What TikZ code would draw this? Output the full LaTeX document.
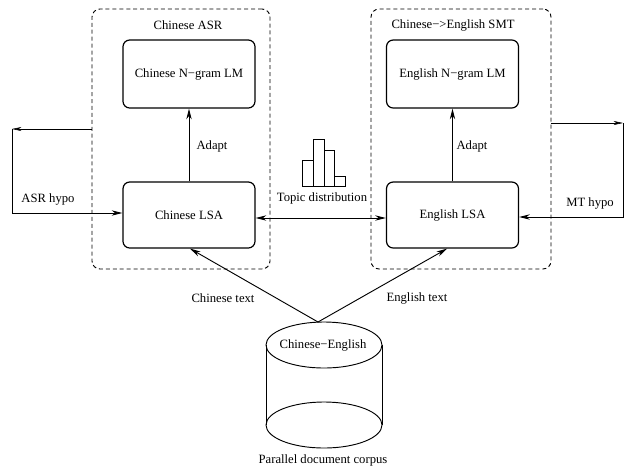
\documentclass[tikz,border=0pt]{standalone}
\usepackage{fontspec}
\setmainfont{Liberation Serif}
\usetikzlibrary{arrows.meta}
\begin{document}
\begin{tikzpicture}[x=0.75pt,y=-0.75pt, font=\fontsize{9.5}{11}\selectfont,
 box/.style={draw, rounded corners=5pt, line width=0.9pt, minimum width=99pt, minimum height=49.5pt, inner sep=0pt},
 group/.style={draw, dash pattern=on 3pt off 2.2pt, rounded corners=6pt, line width=0.7pt, inner sep=0pt},
 conn/.style={line width=0.7pt, -{Stealth[length=8pt,width=4pt,inset=2.5pt]}},
 both/.style={line width=0.7pt, {Stealth[length=8pt,width=4pt,inset=2.5pt]}-{Stealth[length=8pt,width=4pt,inset=2.5pt]}},
 thinarr/.style={line width=0.45pt, -{Stealth[length=7pt,width=3pt,inset=2pt]}},
 plain/.style={line width=0.7pt},
 hist/.style={line width=0.6pt},
 lbl/.style={inner sep=0pt}]
\useasboundingbox (0,0) rectangle (624,465);
% groups
\node[group, minimum width=133.5pt, minimum height=195pt] (asr) at (181,139) {};
\node[group, minimum width=135pt, minimum height=195pt] (smt) at (461,139) {};
\node[lbl] (asrl) at (188,25) {Chinese ASR};
\node[lbl] (smtl) at (453,25) {Chinese−>English SMT};
% boxes
\node[box, minimum height=51pt] (cng) at (189,74) {Chinese N−gram LM};
\node[box] (clsa) at (189,215) {Chinese LSA};
\node[box, minimum height=51pt] (eng) at (452.5,74) {English N−gram LM};
\node[box] (elsa) at (452.5,215) {English LSA};
% adapt
\draw[conn] (clsa) -- (cng);
\draw[conn] (elsa) -- (eng);
\node[lbl] (ad1) at (212,146) {Adapt};
\node[lbl] (ad2) at (472,146) {Adapt};
% topic distribution
\draw[both] ([yshift=-2.25pt]clsa.east) -- ([yshift=-2.25pt]elsa.west);
\node[lbl] (topic) at (322,198) {Topic distribution};
\draw[hist] (302,186) rectangle (313,160);
\draw[hist] (313,186) rectangle (324,139);
\draw[hist] (324,186) rectangle (334,150);
\draw[hist] (334,186) rectangle (345,176);
% ASR hypo
\coordinate (a2) at (12,129);
\coordinate (a3) at (12,213);
\draw[thinarr] (asr.west |- a2) -- (a2);
\draw[conn] (a2) -- (a3) -- (clsa.west |- a3);
\node[lbl] (asrh) at (48,199) {ASR hypo};
% MT hypo
\coordinate (m1) at (623,123);
\coordinate (m2) at (623,217);
\draw[thinarr] (smt.east |- m1) -- (m1);
\draw[conn] (m1) -- (m2) -- (elsa.east |- m2);
\node[lbl] (mth) at (590,203) {MT hypo};
% corpus cylinder
\draw[plain] (324,345) ellipse [x radius=43.5pt, y radius=17.25pt];
\draw[plain] (324,425) ellipse [x radius=43.5pt, y radius=17.25pt];
\draw[plain] (266,345) -- (266,425);
\draw[plain] (382,345) -- (382,425);
\node[lbl] (ce) at (323,345) {Chinese−English};
\node[lbl] (pdc) at (323,460) {Parallel document corpus};
\coordinate (apex) at (318,322);
\draw[conn] (apex) -- ([xshift=0.75pt]clsa.south);
\draw[conn] (apex) -- ([xshift=-4pt]elsa.south);
\node[lbl] (ct) at (223,298) {Chinese text};
\node[lbl] (et) at (417,298) {English text};
\end{tikzpicture}
\end{document}
